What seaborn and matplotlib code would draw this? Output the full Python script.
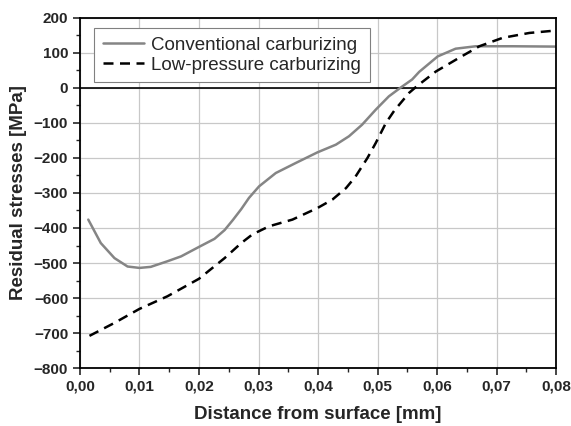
import matplotlib
matplotlib.use('Agg')
import pandas as pd
import numpy as np
import matplotlib.pyplot as plt
import seaborn as sns
from matplotlib.ticker import MultipleLocator

# === 資料 ===
conv_x = [0.0014, 0.0035, 0.0058, 0.0080, 0.0100, 0.0119, 0.0147, 0.0170, 0.0200, 0.0226,
          0.0243, 0.0257, 0.0271, 0.0284, 0.0301, 0.0329, 0.0363, 0.0399, 0.0430, 0.0452,
          0.0474, 0.0497, 0.0519, 0.0538, 0.0558, 0.0570, 0.0601, 0.0631, 0.0665, 0.0727, 0.0800]
conv_y = [-376, -443, -486, -510, -514, -511, -495, -481, -454, -431,
          -406, -377, -346, -314, -281, -243, -214, -184, -162, -138,
          -105, -62, -24, 0, 24, 46, 90, 112, 119, 119, 118]

lp_x = [0.0016, 0.0058, 0.0100, 0.0147, 0.0200, 0.0243, 0.0271, 0.0290, 0.0318, 0.0357,
        0.0399, 0.0424, 0.0447, 0.0463, 0.0483, 0.0497, 0.0514, 0.0528, 0.0553, 0.0566,
        0.0598, 0.0637, 0.0671, 0.0710, 0.0755, 0.0800]
lp_y = [-708, -671, -631, -595, -545, -486, -443, -418, -395, -376,
        -343, -319, -286, -253, -200, -157, -100, -65, -14, 5,
        47, 86, 119, 143, 157, 164]

series_names = ['Conventional carburizing', 'Low-pressure carburizing']
x_ticks = [0.00, 0.01, 0.02, 0.03, 0.04, 0.05, 0.06, 0.07, 0.08]
x_tick_labels = ['0,00', '0,01', '0,02', '0,03', '0,04', '0,05', '0,06', '0,07', '0,08']
y_ticks = [-800, -700, -600, -500, -400, -300, -200, -100, 0, 100, 200]

df = pd.concat([
    pd.DataFrame({'x': conv_x, 'y': conv_y, 'series': series_names[0]}),
    pd.DataFrame({'x': lp_x, 'y': lp_y, 'series': series_names[1]}),
], ignore_index=True)

sns.set_style('white')
plt.rcParams['font.family'] = ['Liberation Sans', 'DejaVu Sans']

fig = plt.figure(figsize=(5.71, 4.26), dpi=100)
ax = fig.add_axes([0.140, 0.136, 0.834, 0.822])

sns.lineplot(data=df, x='x', y='y', hue='series', style='series',
             palette={series_names[0]: '#858585', series_names[1]: 'black'},
             dashes={series_names[0]: '', series_names[1]: (4, 2.6)},
             linewidth=1.8, sort=False, ax=ax)

# 網格與零線
ax.grid(True, color='#c8c8c8', linewidth=0.9)
ax.set_axisbelow(True)
ax.axhline(0, color='black', linewidth=1.2, zorder=1)

ax.set_xlim(0, 0.08)
ax.set_ylim(-800, 200)
ax.set_xticks(x_ticks)
ax.set_xticklabels(x_tick_labels)
ax.set_yticks(y_ticks)
ax.xaxis.set_minor_locator(MultipleLocator(0.005))
ax.yaxis.set_minor_locator(MultipleLocator(50))

ax.tick_params(which='major', direction='out', length=5, width=1.2,
               bottom=True, left=True, labelsize=11)
ax.tick_params(which='minor', direction='out', length=3, width=1.0,
               bottom=True, left=True)
for lab in ax.get_xticklabels() + ax.get_yticklabels():
    lab.set_fontweight('bold')

for sp in ax.spines.values():
    sp.set_color('black')
    sp.set_linewidth(1.3)

ax.set_xlabel('Distance from surface [mm]', fontsize=13.5, fontweight='bold', labelpad=9)
ax.set_ylabel('Residual stresses [MPa]', fontsize=13.5, fontweight='bold', labelpad=5)

leg = ax.legend(loc='upper left', bbox_to_anchor=(0.03, 0.97), borderaxespad=0,
                fontsize=13.5, frameon=True, fancybox=False, framealpha=1,
                edgecolor='#808080', handlelength=2.2, borderpad=0.45,
                labelspacing=0.15, handletextpad=0.4)
leg.get_frame().set_linewidth(0.8)

fig.savefig('out.png', dpi=100)
